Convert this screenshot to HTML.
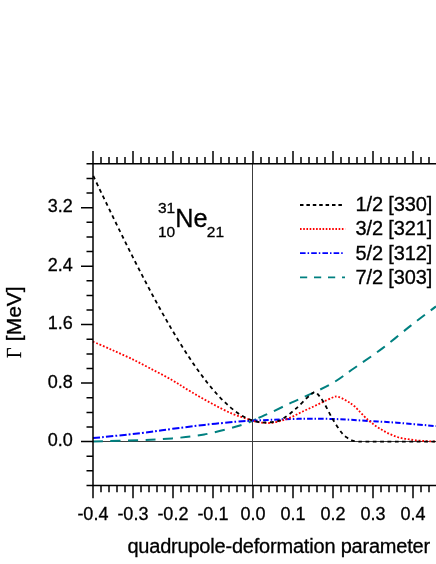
<!DOCTYPE html>
<html><head><meta charset="utf-8"><title>chart</title>
<style>html,body{margin:0;padding:0;background:#fff}svg{display:block;will-change:transform}text{font-family:"Liberation Sans",sans-serif;fill:#000;stroke:#000;stroke-width:0.3px}</style></head><body>
<svg width="436" height="564" viewBox="0 0 436 564">
<rect width="436" height="564" fill="#fff"/>
<g stroke="#3c3c3c" stroke-width="1" shape-rendering="crispEdges"><line x1="252.5" y1="163.8" x2="252.5" y2="485.5"/><line x1="93.0" y1="441.5" x2="436" y2="441.5"/></g>
<g fill="none" stroke-linejoin="round">
<path d="M93.0 441.4 C100.8 441.2 126.8 440.7 140.0 440.2 C153.2 439.7 161.4 439.3 172.1 438.4 C182.8 437.4 193.5 436.5 204.2 434.5 C214.9 432.5 228.7 428.6 236.3 426.5 C243.9 424.4 246.7 423.1 250.0 421.9 C253.3 420.7 254.6 419.8 256.0 419.2" stroke="#008080" stroke-width="2" stroke-dasharray="10 7.5"/>
<path d="M258.5 418.0 C260.9 416.9 265.1 415.2 270.6 412.6 C276.1 410.1 284.4 405.9 291.3 402.7 C298.2 399.5 305.0 396.7 311.9 393.4 C318.8 390.1 325.5 387.3 332.6 383.1 C339.7 378.9 346.0 373.8 354.4 368.0 C362.8 362.2 373.2 355.2 382.7 348.1 C392.1 341.0 402.2 332.3 411.1 325.4 C420.0 318.4 431.9 309.6 436.0 306.4" stroke="#008080" stroke-width="2" stroke-dasharray="9.8 7.2"/>
<path d="M93.0 438.1 C100.8 437.3 126.8 434.7 140.0 433.2 C153.2 431.7 161.4 430.3 172.1 428.9 C182.8 427.5 193.5 426.1 204.2 424.9 C214.9 423.7 228.3 422.4 236.3 421.7 C244.3 421.0 246.7 421.0 252.4 420.7" stroke="#0000ff" stroke-width="2" stroke-dasharray="7.2 2 1.8 2.3"/>
<path d="M252.4 420.7 C258.1 420.4 264.1 420.1 270.6 419.8 C277.1 419.5 284.4 419.2 291.3 419.0 C298.2 418.8 303.8 418.8 311.9 418.8 C320.0 418.8 330.6 418.8 340.0 419.2 C349.4 419.6 359.0 420.4 368.5 421.0 C378.0 421.6 385.6 421.8 396.9 422.7 C408.1 423.6 429.5 425.5 436.0 426.1" stroke="#0000ff" stroke-width="2" stroke-dasharray="5.4 2 1.5 2.1"/>
<path d="M93.0 341.6 C96.0 342.9 104.9 346.8 111.0 349.5 C117.1 352.2 123.2 354.8 129.7 357.9 C136.2 361.0 143.0 364.6 150.0 368.3 C157.0 372.0 165.1 376.1 171.9 380.0 C178.7 383.9 184.0 387.6 190.6 391.5 C197.2 395.4 204.4 399.6 211.3 403.3 C218.2 407.0 225.7 411.0 231.9 413.6 C238.1 416.2 244.9 418.0 248.4 419.2 C251.9 420.4 250.8 420.3 253.1 420.9 C255.4 421.5 259.5 422.4 262.4 422.7 C265.3 423.0 267.5 423.2 270.6 422.9 C273.7 422.6 277.6 421.8 281.0 420.9 C284.4 419.9 287.9 418.7 291.3 417.2 C294.7 415.7 298.2 413.6 301.6 412.0 C305.0 410.4 308.4 408.9 311.9 407.3 C315.3 405.7 318.9 403.9 322.3 402.3 C325.8 400.7 330.0 398.4 332.6 397.5 C335.2 396.6 335.8 396.2 338.0 396.7 C340.2 397.2 343.3 398.9 346.0 400.5 C348.7 402.1 350.6 402.9 354.4 406.2 C358.1 409.5 363.8 416.4 368.5 420.4 C373.2 424.4 378.0 427.6 382.7 430.3 C387.4 433.1 392.2 435.3 396.9 436.9 C401.6 438.5 406.4 439.0 411.1 439.7 C415.8 440.4 421.1 440.8 425.2 441.1 C429.3 441.4 434.2 441.3 436.0 441.4" stroke="#ff0000" stroke-width="1.8" stroke-dasharray="1.8 1.8"/>
<path d="M93.3 175.9 C94.3 178.0 97.3 184.3 99.3 188.5 C101.3 192.7 103.3 196.8 105.3 201.0 C107.3 205.2 109.3 209.3 111.3 213.4 C113.3 217.6 115.3 221.7 117.3 225.8 C119.3 229.9 121.3 234.0 123.3 238.0 C125.3 242.1 127.3 246.1 129.3 250.1 C131.3 254.1 133.3 258.1 135.3 262.0 C137.3 265.9 139.3 269.9 141.3 273.7 C143.3 277.6 145.3 281.4 147.3 285.2 C149.3 289.0 151.3 292.8 153.3 296.5 C155.3 300.2 157.3 303.9 159.3 307.5 C161.3 311.1 163.3 314.7 165.3 318.2 C167.3 321.7 169.3 325.2 171.3 328.6 C173.3 332.0 175.3 335.4 177.3 338.7 C179.3 341.9 181.3 345.2 183.3 348.3 C185.3 351.5 187.3 354.6 189.3 357.6 C191.3 360.6 193.3 363.6 195.3 366.4 C197.3 369.3 199.3 372.1 201.3 374.8 C203.3 377.5 205.3 380.1 207.3 382.7 C209.3 385.2 211.3 387.6 213.3 390.0 C215.3 392.3 217.3 394.5 219.3 396.7 C221.3 398.8 223.3 400.8 225.3 402.7 C227.3 404.6 229.3 406.4 231.3 408.1 C233.3 409.7 235.3 411.3 237.3 412.7 C239.3 414.1 241.3 415.4 243.3 416.5 C245.3 417.6 247.3 418.6 249.3 419.4 C251.3 420.3 253.3 420.9 255.3 421.4 C257.3 421.9 259.7 422.2 261.3 422.4 C262.9 422.6 263.0 422.6 264.9 422.5 C266.8 422.4 270.6 422.3 272.9 422.0 C275.2 421.7 276.8 421.5 278.7 420.8 C280.6 420.1 281.5 419.8 284.4 417.8 C287.3 415.8 292.1 412.1 295.9 408.7 C299.7 405.3 304.5 400.2 307.3 397.6 C310.1 395.0 311.2 394.1 312.5 393.2 C313.8 392.3 314.1 391.9 314.9 392.0 C315.7 392.1 315.9 392.0 317.3 393.6 C318.7 395.2 320.8 397.6 323.4 401.8 C325.9 406.0 329.6 413.8 332.6 419.0 C335.7 424.2 339.3 429.7 341.7 432.8 C344.1 435.9 345.2 436.3 347.0 437.6 C348.8 438.9 350.6 440.0 352.4 440.6 C354.2 441.2 355.9 441.3 358.0 441.5 C360.1 441.7 358.0 441.6 365.0 441.6 C372.0 441.6 388.2 441.6 400.0 441.6 C411.8 441.6 430.0 441.6 436.0 441.6" stroke="#000" stroke-width="1.8" stroke-dasharray="3.8 3.5"/>
</g>
<path d="M93.0 163.1 V486.2 M92.2 163.8 H436 M92.2 485.5 H436 M93.0 485.5 v12.8 M93.0 163.8 v-12.8 M101.0 485.5 v6.8 M101.0 163.8 v-6.8 M109.0 485.5 v6.8 M109.0 163.8 v-6.8 M117.0 485.5 v6.8 M117.0 163.8 v-6.8 M125.0 485.5 v6.8 M125.0 163.8 v-6.8 M133.0 485.5 v12.8 M133.0 163.8 v-12.8 M141.0 485.5 v6.8 M141.0 163.8 v-6.8 M149.0 485.5 v6.8 M149.0 163.8 v-6.8 M157.0 485.5 v6.8 M157.0 163.8 v-6.8 M165.0 485.5 v6.8 M165.0 163.8 v-6.8 M173.0 485.5 v12.8 M173.0 163.8 v-12.8 M181.0 485.5 v6.8 M181.0 163.8 v-6.8 M189.0 485.5 v6.8 M189.0 163.8 v-6.8 M197.0 485.5 v6.8 M197.0 163.8 v-6.8 M205.0 485.5 v6.8 M205.0 163.8 v-6.8 M213.0 485.5 v12.8 M213.0 163.8 v-12.8 M221.0 485.5 v6.8 M221.0 163.8 v-6.8 M229.0 485.5 v6.8 M229.0 163.8 v-6.8 M237.0 485.5 v6.8 M237.0 163.8 v-6.8 M245.0 485.5 v6.8 M245.0 163.8 v-6.8 M253.0 485.5 v12.8 M253.0 163.8 v-12.8 M261.0 485.5 v6.8 M261.0 163.8 v-6.8 M269.0 485.5 v6.8 M269.0 163.8 v-6.8 M277.0 485.5 v6.8 M277.0 163.8 v-6.8 M285.0 485.5 v6.8 M285.0 163.8 v-6.8 M293.0 485.5 v12.8 M293.0 163.8 v-12.8 M301.0 485.5 v6.8 M301.0 163.8 v-6.8 M309.0 485.5 v6.8 M309.0 163.8 v-6.8 M317.0 485.5 v6.8 M317.0 163.8 v-6.8 M325.0 485.5 v6.8 M325.0 163.8 v-6.8 M333.0 485.5 v12.8 M333.0 163.8 v-12.8 M341.0 485.5 v6.8 M341.0 163.8 v-6.8 M349.0 485.5 v6.8 M349.0 163.8 v-6.8 M357.0 485.5 v6.8 M357.0 163.8 v-6.8 M365.0 485.5 v6.8 M365.0 163.8 v-6.8 M373.0 485.5 v12.8 M373.0 163.8 v-12.8 M381.0 485.5 v6.8 M381.0 163.8 v-6.8 M389.0 485.5 v6.8 M389.0 163.8 v-6.8 M397.0 485.5 v6.8 M397.0 163.8 v-6.8 M405.0 485.5 v6.8 M405.0 163.8 v-6.8 M413.0 485.5 v12.8 M413.0 163.8 v-12.8 M421.0 485.5 v6.8 M421.0 163.8 v-6.8 M429.0 485.5 v6.8 M429.0 163.8 v-6.8 M437.0 485.5 v6.8 M437.0 163.8 v-6.8 M93.0 485.5 h-6.5 M93.0 470.8 h-6.5 M93.0 456.2 h-6.5 M93.0 441.6 h-12.0 M93.0 427.0 h-6.5 M93.0 412.4 h-6.5 M93.0 397.7 h-6.5 M93.0 383.1 h-12.0 M93.0 368.5 h-6.5 M93.0 353.9 h-6.5 M93.0 339.3 h-6.5 M93.0 324.6 h-12.0 M93.0 310.0 h-6.5 M93.0 295.4 h-6.5 M93.0 280.8 h-6.5 M93.0 266.2 h-12.0 M93.0 251.5 h-6.5 M93.0 236.9 h-6.5 M93.0 222.3 h-6.5 M93.0 207.7 h-12.0 M93.0 193.1 h-6.5 M93.0 178.4 h-6.5 M93.0 163.8 h-6.5" fill="none" stroke="#000" stroke-width="1.5"/>
<text x="72.8" y="446.2" font-size="18" text-anchor="end">0.0</text>
<text x="72.8" y="387.7" font-size="18" text-anchor="end">0.8</text>
<text x="72.8" y="329.2" font-size="18" text-anchor="end">1.6</text>
<text x="72.8" y="270.8" font-size="18" text-anchor="end">2.4</text>
<text x="72.8" y="212.3" font-size="18" text-anchor="end">3.2</text>
<text x="92.9" y="519.6" font-size="18" text-anchor="middle">-0.4</text>
<text x="132.9" y="519.6" font-size="18" text-anchor="middle">-0.3</text>
<text x="172.9" y="519.6" font-size="18" text-anchor="middle">-0.2</text>
<text x="212.9" y="519.6" font-size="18" text-anchor="middle">-0.1</text>
<text x="252.9" y="519.6" font-size="18" text-anchor="middle">0.0</text>
<text x="292.9" y="519.6" font-size="18" text-anchor="middle">0.1</text>
<text x="332.9" y="519.6" font-size="18" text-anchor="middle">0.2</text>
<text x="372.9" y="519.6" font-size="18" text-anchor="middle">0.3</text>
<text x="412.9" y="519.6" font-size="18" text-anchor="middle">0.4</text>
<text x="127.4" y="553.3" font-size="20" textLength="302.8" lengthAdjust="spacing">quadrupole-deformation parameter</text>
<text transform="translate(21 358.1) rotate(-90) scale(0.88 1)" font-size="20.6" font-family="Liberation Serif" style="font-family:'Liberation Serif',serif">Γ</text>
<text transform="translate(21 341.2) rotate(-90)" font-size="21">[MeV]</text>
<line x1="300" y1="204.9" x2="342" y2="204.9" stroke="#000" stroke-width="2" stroke-dasharray="3.5 2.9"/>
<text x="355.6" y="211.3" font-size="20" textLength="76.6" lengthAdjust="spacing">1/2 [330]</text>
<line x1="300" y1="229.0" x2="345.2" y2="229.0" stroke="#ff0000" stroke-width="1.8" stroke-dasharray="1.6 1.62"/>
<text x="355.6" y="235.4" font-size="20" textLength="76.6" lengthAdjust="spacing">3/2 [321]</text>
<line x1="300" y1="253.1" x2="343" y2="253.1" stroke="#0000ff" stroke-width="1.8" stroke-dasharray="5.6 2 1.5 2.1"/>
<text x="355.6" y="259.5" font-size="20" textLength="76.6" lengthAdjust="spacing">5/2 [312]</text>
<line x1="300" y1="277.3" x2="345" y2="277.3" stroke="#008080" stroke-width="1.8" stroke-dasharray="7.2 6.8"/>
<text x="355.6" y="283.7" font-size="20" textLength="76.6" lengthAdjust="spacing">7/2 [303]</text>
<text x="158" y="212.6" font-size="15.5">31</text>
<text x="158" y="236.5" font-size="15.5">10</text>
<text x="175.2" y="226.5" font-size="25.2">Ne</text>
<text x="206.8" y="236.5" font-size="15.5">21</text>
</svg></body></html>
